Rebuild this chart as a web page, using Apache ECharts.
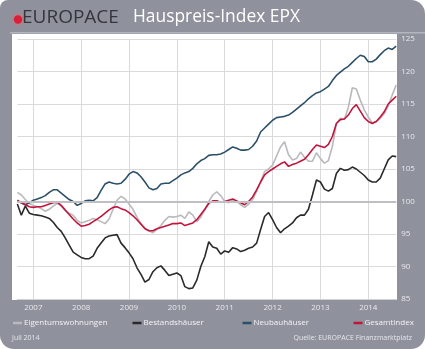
<!DOCTYPE html>
<html><head><meta charset="utf-8">
<script src="https://cdn.jsdelivr.net/npm/echarts@6/dist/echarts.min.js"></script>
<style>html,body{margin:0;padding:0;background:#fff}#c{width:425px;height:349px}</style>
</head><body><div id="c"></div>
<script>
const months = ['2006-09','2006-10','2006-11','2006-12',
'2007-01','2007-02','2007-03','2007-04','2007-05','2007-06','2007-07','2007-08','2007-09','2007-10','2007-11','2007-12',
'2008-01','2008-02','2008-03','2008-04','2008-05','2008-06','2008-07','2008-08','2008-09','2008-10','2008-11','2008-12',
'2009-01','2009-02','2009-03','2009-04','2009-05','2009-06','2009-07','2009-08','2009-09','2009-10','2009-11','2009-12',
'2010-01','2010-02','2010-03','2010-04','2010-05','2010-06','2010-07','2010-08','2010-09','2010-10','2010-11','2010-12',
'2011-01','2011-02','2011-03','2011-04','2011-05','2011-06','2011-07','2011-08','2011-09','2011-10','2011-11','2011-12',
'2012-01','2012-02','2012-03','2012-04','2012-05','2012-06','2012-07','2012-08','2012-09','2012-10','2012-11','2012-12',
'2013-01','2013-02','2013-03','2013-04','2013-05','2013-06','2013-07','2013-08','2013-09','2013-10','2013-11','2013-12',
'2014-01','2014-02','2014-03','2014-04','2014-05','2014-06','2014-07','2014-08'];

const eigentumswohnungen = [101.4,101.0,100.3,99.7,
99.4,99.2,98.9,98.5,98.8,99.3,99.7,99.3,98.6,98.2,97.9,97.1,
96.7,96.9,97.1,97.4,97.2,96.9,96.6,97.3,98.8,100.2,100.8,100.4,
99.6,98.8,97.6,96.6,95.9,95.5,95.2,95.7,96.3,97.1,97.7,97.6,
97.7,97.9,97.4,98.4,97.9,96.9,97.6,98.7,100.0,101.0,101.5,100.9,
100.0,99.8,100.2,100.0,99.5,99.1,99.6,100.3,101.6,103.0,104.6,105.0,
105.6,107.0,108.4,109.2,107.2,106.4,106.6,107.6,106.8,106.2,106.2,107.5,
106.6,105.9,106.3,108.5,112.0,112.8,112.6,114.5,117.5,117.3,115.6,114.1,
113.0,112.1,112.3,112.8,113.5,114.7,116.4,117.9];

const bestandshaeuser = [99.6,97.9,99.3,98.2,
98.0,97.9,97.8,97.6,97.4,96.8,96.0,95.4,94.4,93.3,92.2,91.8,
91.4,91.2,91.2,91.6,92.8,93.6,94.4,94.7,94.8,94.9,93.6,92.9,
92.1,91.2,89.8,88.8,87.6,88.0,89.2,89.8,90.1,89.4,88.6,88.8,
89.0,88.6,86.9,86.6,86.7,87.9,90.0,91.5,93.8,93.0,92.8,91.9,
92.4,92.2,92.9,92.7,92.3,92.5,92.8,93.0,93.6,95.7,97.7,98.3,
97.2,96.0,95.2,95.8,96.2,96.7,97.5,97.9,97.9,98.8,101.0,103.3,
103.0,101.9,101.6,102.0,104.3,105.1,104.8,104.9,105.3,105.0,104.5,104.0,
103.3,103.0,103.0,103.6,105.0,106.4,107.0,106.9];

const neubauhaeuser = [100.0,99.8,99.5,99.8,
100.2,100.4,100.6,100.9,101.4,101.8,101.8,101.3,100.8,100.3,100.0,99.4,
99.7,100.1,100.2,100.1,100.6,101.7,102.7,103.0,102.8,102.7,102.8,103.4,
104.2,104.6,104.4,103.8,103.0,102.1,101.8,102.0,102.7,102.8,102.8,103.2,
103.6,104.1,104.4,104.6,105.1,105.8,106.3,106.6,107.1,107.2,107.2,107.3,
107.6,108.0,108.4,108.2,107.9,107.9,108.0,108.5,109.3,110.7,111.3,111.9,
112.5,112.9,113.0,113.1,113.3,113.7,114.2,114.7,115.2,115.8,116.3,116.7,
116.9,117.3,117.7,118.6,119.4,119.9,120.4,120.8,121.4,122.0,122.5,122.3,
121.5,121.5,121.9,122.6,123.2,123.6,123.4,123.9];

const gesamtindex = [100.2,99.8,99.5,99.2,
99.1,99.2,99.2,99.4,99.6,99.8,99.9,99.4,98.7,98.0,97.3,96.7,
96.2,96.3,96.5,96.9,97.3,97.7,98.2,98.7,99.1,99.2,98.9,98.7,
98.3,97.8,97.2,96.5,95.8,95.5,95.5,95.8,96.0,96.2,96.4,96.6,
96.6,96.7,96.3,96.5,96.7,97.2,98.0,98.8,99.7,100.1,100.1,99.9,
100.0,100.2,100.4,100.1,99.8,99.5,100.0,100.7,101.8,103.0,104.1,104.6,
105.0,105.4,105.8,106.1,105.4,105.7,105.9,106.2,106.5,107.2,108.0,108.7,
108.5,108.3,108.8,110.0,112.0,112.6,112.7,113.3,114.3,114.9,113.9,112.9,
112.3,112.0,112.3,113.0,113.8,115.0,115.6,116.2];

const yTicks = {min: 85, max: 125, step: 5};
const seriesNames = ['Eigentumswohnungen','Bestandshäuser','Neubauhäuser','Gesamtindex'];
const seriesColors = ['#b9b9be','#2a2a2d','#2d5069','#c3143c'];

const chart = echarts.init(document.getElementById('c'), null, {renderer:'canvas'});
const isJan = (i) => months[i].slice(5) === '01';
const bg = '#8f929d';
const font = "'Open Sans', 'Noto Sans', sans-serif";

const legendPos = [13, 132.5, 242.5, 353.5];
const legends = seriesNames.map((n, i) => ({
  data: [n], left: legendPos[i], top: 319, padding: 0, icon: 'rect', itemWidth: 9, itemHeight: 2.5, itemGap: 0,
  textStyle: {color: '#f4f4f6', fontSize: 8, fontFamily: font, padding: [0,0,0,-3]},
  selectedMode: false
}));

chart.setOption({
  animation: false,
  backgroundColor: '#ffffff',
  graphic: [
    {type:'rect', shape:{x:0,y:0,width:425,height:349,r:[8,14,14,14]}, style:{fill:bg}, z:-10},
    {type:'rect', shape:{x:12,y:34,width:385,height:266}, style:{fill:'#ffffff'}, z:-9},
    {type:'rect', shape:{x:10,y:32,width:415,height:1.5}, style:{fill:'#b3b5be'}, z:-9},
    {type:'circle', shape:{cx:18,cy:19.5,r:4.2}, style:{fill:'#d8203a', shadowBlur:4, shadowColor:'#ff6060'}, z:5},
    {type:'text', left:22, top:8.5, style:{text:'EUROPACE', fill:'#34353d', font:"19px 'Open Sans', sans-serif"}, z:5},
    {type:'text', left:133, top:9, style:{text:'Hauspreis-Index EPX', fill:'#ffffff', font:"17.4px 'Open Sans', sans-serif"}, z:5},
    {type:'text', left:12, top:334, style:{text:'Juli 2014', fill:'#e6e6ea', font:"7px 'Open Sans', sans-serif"}, z:5},
    {type:'text', right:13, top:334, style:{text:'Quelle: EUROPACE Finanzmarktplatz', fill:'#e6e6ea', font:"7px 'Open Sans', sans-serif"}, z:5}
  ],
  legend: legends,
  grid: {left: 17.35, right: 28.8, top: 39, height: 260, containLabel: false},
  xAxis: {
    type: 'category', data: months, boundaryGap: false,
    axisLine: {show: true, lineStyle: {color: '#cfcfd3', type: 'dotted', width: 1}},
    axisTick: {show: false},
    axisLabel: {interval: (i) => isJan(i), formatter: (v) => v.slice(0,4), color: '#e8e8ec', fontSize: 8, fontFamily: font, margin: 5},
    splitLine: {show: true, interval: (i) => isJan(i), lineStyle: {color: '#dadadd', width: 1}}
  },
  yAxis: {
    type: 'value', position: 'right', min: yTicks.min, max: yTicks.max, interval: yTicks.step,
    axisLine: {show: false}, axisTick: {show: false},
    axisLabel: {color: '#e8e8ec', fontSize: 8, fontFamily: font, margin: 5},
    splitLine: {lineStyle: {color: '#dadadd', width: 1}}
  },
  series: [
    {name: seriesNames[0], type:'line', data: eigentumswohnungen, showSymbol:false, lineStyle:{width:1.6, color: seriesColors[0]}, itemStyle:{color: seriesColors[0]},
     markLine: {silent:true, symbol:'none', label:{show:false}, lineStyle:{color:'#bfbfc3', width:2, type:'solid'}, data:[{yAxis:100}]}},
    {name: seriesNames[1], type:'line', data: bestandshaeuser, showSymbol:false, lineStyle:{width:1.6, color: seriesColors[1]}, itemStyle:{color: seriesColors[1]}},
    {name: seriesNames[2], type:'line', data: neubauhaeuser, showSymbol:false, lineStyle:{width:1.6, color: seriesColors[2]}, itemStyle:{color: seriesColors[2]}},
    {name: seriesNames[3], type:'line', data: gesamtindex, showSymbol:false, lineStyle:{width:1.6, color: seriesColors[3]}, itemStyle:{color: seriesColors[3]}}
  ]
});
</script></body></html>
